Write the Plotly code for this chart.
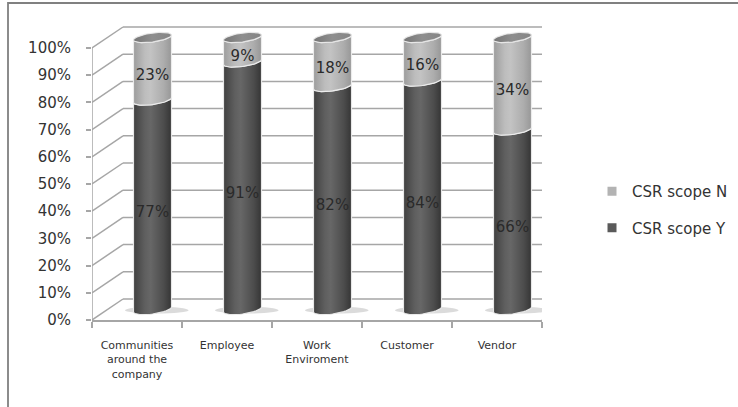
import numpy as np
import plotly.graph_objects as go

# ---- data ----
categories = ["Communities<br>around the<br>company", "Employee", "Work<br>Enviroment", "Customer", "Vendor"]
scope_y = [77, 91, 82, 84, 66]
scope_n = [23, 9, 18, 16, 34]
y_ticks = list(range(0, 101, 10))
y_tick_labels = [f"{v}%" for v in y_ticks]

# ---- geometry / style ----
W, H = 738, 407
M_L, M_R, M_T, M_B = 92, 196, 20, 87
n_cat = len(categories)
px_per_cat = (W - M_L - M_R) / n_cat
px_per_unit = 2.72
y_max = (H - M_T - M_B) / px_per_unit

# pseudo-3D depth of the chart box, in axis units
depth_x = 31 / px_per_cat
depth_y = 21 / px_per_unit
# cylinders stand half way into the box
mid_x = depth_x / 2
mid_y = 10.5 / px_per_unit
rx = 19 / px_per_cat
ry = 4.5 / px_per_unit
tilt = 2.5 / px_per_unit

FONT = "DejaVu Sans"
GRID = "#a6a6a6"
TEXT = "#333333"

shade_y = [[0, "#404040"], [0.3, "#5f5f5f"], [0.45, "#676767"], [0.8, "#4c4c4c"], [1, "#353535"]]
shade_n = [[0, "#9c9c9c"], [0.3, "#bdbdbd"], [0.45, "#c3c3c3"], [0.8, "#acacac"], [1, "#979797"]]
shade_top = [[0, "#767676"], [0.5, "#8e8e8e"], [1, "#848484"]]
legend_colors = {"CSR scope Y": "#5a5a5a", "CSR scope N": "#b3b3b3"}


def lower_arc(cx, level, left_to_right=True):
    th = np.linspace(np.pi, 0, 31) if left_to_right else np.linspace(0, np.pi, 31)
    xs = cx + rx * np.cos(th)
    ys = level - ry * np.sin(th) + tilt * np.cos(th)
    return list(xs), list(ys)


fig = go.Figure()

# floor shadows under the cylinders
for i in range(n_cat):
    cx = i + mid_x
    fig.add_shape(type="circle", xref="x2", yref="y",
                  x0=cx - rx * 1.45, x1=cx + rx * 1.9,
                  y0=mid_y - ry * 0.9, y1=mid_y + ry * 0.6,
                  fillcolor="rgba(175,175,175,0.45)", line_width=0, layer="below")

# cylinder segments
for i in range(n_cat):
    cx = i + mid_x
    segs = [(0, scope_y[i], shade_y), (scope_y[i], scope_y[i] + scope_n[i], shade_n)]
    for base, top, shade in segs:
        bx, by = lower_arc(cx, base + mid_y, True)
        tx, ty = lower_arc(cx, top + mid_y, False)
        xs = bx + tx + [bx[0]]
        ys = by + ty + [by[0]]
        fig.add_trace(go.Scatter(
            x=xs, y=ys, xaxis="x2", mode="lines", fill="toself",
            fillgradient=dict(type="horizontal", colorscale=shade),
            line=dict(color="rgba(240,240,240,0.9)", width=1.2),
            hoverinfo="skip", showlegend=False))
    # top face
    top = scope_y[i] + scope_n[i] + mid_y
    th = np.linspace(0, 2 * np.pi, 61)
    fig.add_trace(go.Scatter(
        x=cx + rx * np.cos(th), y=top - ry * np.sin(th) + tilt * np.cos(th),
        xaxis="x2", mode="lines", fill="toself",
        fillgradient=dict(type="horizontal", colorscale=shade_top),
        line=dict(color="rgba(235,235,235,0.9)", width=1.2),
        hoverinfo="skip", showlegend=False))

# value labels
lab_x, lab_y, lab_t = [], [], []
for i in range(n_cat):
    cx = i + mid_x
    lab_x += [cx, cx]
    lab_y += [scope_y[i] / 2 + mid_y - 3.2, scope_y[i] + scope_n[i] / 2 + mid_y - 2.6]
    lab_t += [f"{scope_y[i]}%", f"{scope_n[i]}%"]
fig.add_trace(go.Scatter(
    x=lab_x, y=lab_y, xaxis="x2", mode="text", text=lab_t,
    textfont=dict(family=FONT, size=15, color="#2a2a2a"),
    hoverinfo="skip", showlegend=False))

# category anchor for the label axis
fig.add_trace(go.Scatter(x=categories, y=[0] * n_cat, mode="markers",
                         marker=dict(opacity=0), hoverinfo="skip", showlegend=False))

# legend entries
for name in ["CSR scope N", "CSR scope Y"]:
    fig.add_trace(go.Scatter(x=[None], y=[None], xaxis="x2", mode="markers", name=name,
                             legendgroup=name,
                             marker=dict(symbol="square", size=9, color=legend_colors[name])))

# box: back wall gridlines, left wall diagonals, floor edge, front axis
x_left, x_right = -0.5, n_cat - 0.5
for v in y_ticks:
    fig.add_shape(type="line", xref="x2", yref="y",
                  x0=x_left + depth_x, x1=x_right + depth_x, y0=v + depth_y, y1=v + depth_y,
                  line=dict(color=GRID, width=1.5), layer="below")
    fig.add_shape(type="line", xref="x2", yref="y",
                  x0=x_left, x1=x_left + depth_x, y0=v, y1=v + depth_y,
                  line=dict(color=GRID, width=1.5), layer="below")
fig.add_shape(type="line", xref="x2", yref="y",
              x0=x_right, x1=x_right + depth_x, y0=0, y1=depth_y,
              line=dict(color=GRID, width=1.5), layer="below")
fig.add_shape(type="line", xref="x2", yref="y",
              x0=x_left, x1=x_left, y0=0, y1=100,
              line=dict(color=GRID, width=1.5), layer="below")

# outer frame
plot_w = W - M_L - M_R
plot_h = H - M_T - M_B
fig.add_shape(type="rect", xref="paper", yref="paper",
              x0=(8 - M_L) / plot_w, x1=(W + 10 - M_L) / plot_w,
              y0=(H - M_B - (H + 10)) / plot_h, y1=(H - M_B - 3) / plot_h,
              line=dict(color="#808080", width=1.8), fillcolor="rgba(0,0,0,0)")

fig.update_layout(
    width=W, height=H,
    margin=dict(l=M_L, r=M_R, t=M_T, b=M_B, autoexpand=False),
    paper_bgcolor="white", plot_bgcolor="rgba(0,0,0,0)",
    font=dict(family=FONT, color=TEXT),
    xaxis=dict(type="category", categoryorder="array", categoryarray=categories,
               range=[x_left, x_right], tickson="boundaries", ticks="outside",
               ticklen=6, tickcolor=GRID, tickwidth=1.5, showline=True,
               linecolor=GRID, linewidth=1.5, showgrid=False, zeroline=False,
               tickfont=dict(family=FONT, size=11, color=TEXT), ticklabelstandoff=14,
               fixedrange=True, automargin=False),
    xaxis2=dict(overlaying="x", range=[x_left, x_right], visible=False, fixedrange=True),
    yaxis=dict(range=[0, y_max], tickmode="array", tickvals=y_ticks, ticktext=y_tick_labels,
               ticks="outside", ticklen=5, tickcolor=GRID, tickwidth=1.5,
               showline=False, showgrid=False, zeroline=False,
               tickfont=dict(family=FONT, size=15, color=TEXT), ticklabelstandoff=12,
               fixedrange=True, automargin=False),
    legend=dict(x=(592 - M_L) / plot_w, xanchor="left",
                y=(H - M_B - 175) / plot_h, yanchor="top",
                font=dict(family=FONT, size=15, color=TEXT),
                traceorder="grouped", tracegroupgap=14,
                bgcolor="rgba(0,0,0,0)"),
    showlegend=True,
)

fig.write_html("out.html")
